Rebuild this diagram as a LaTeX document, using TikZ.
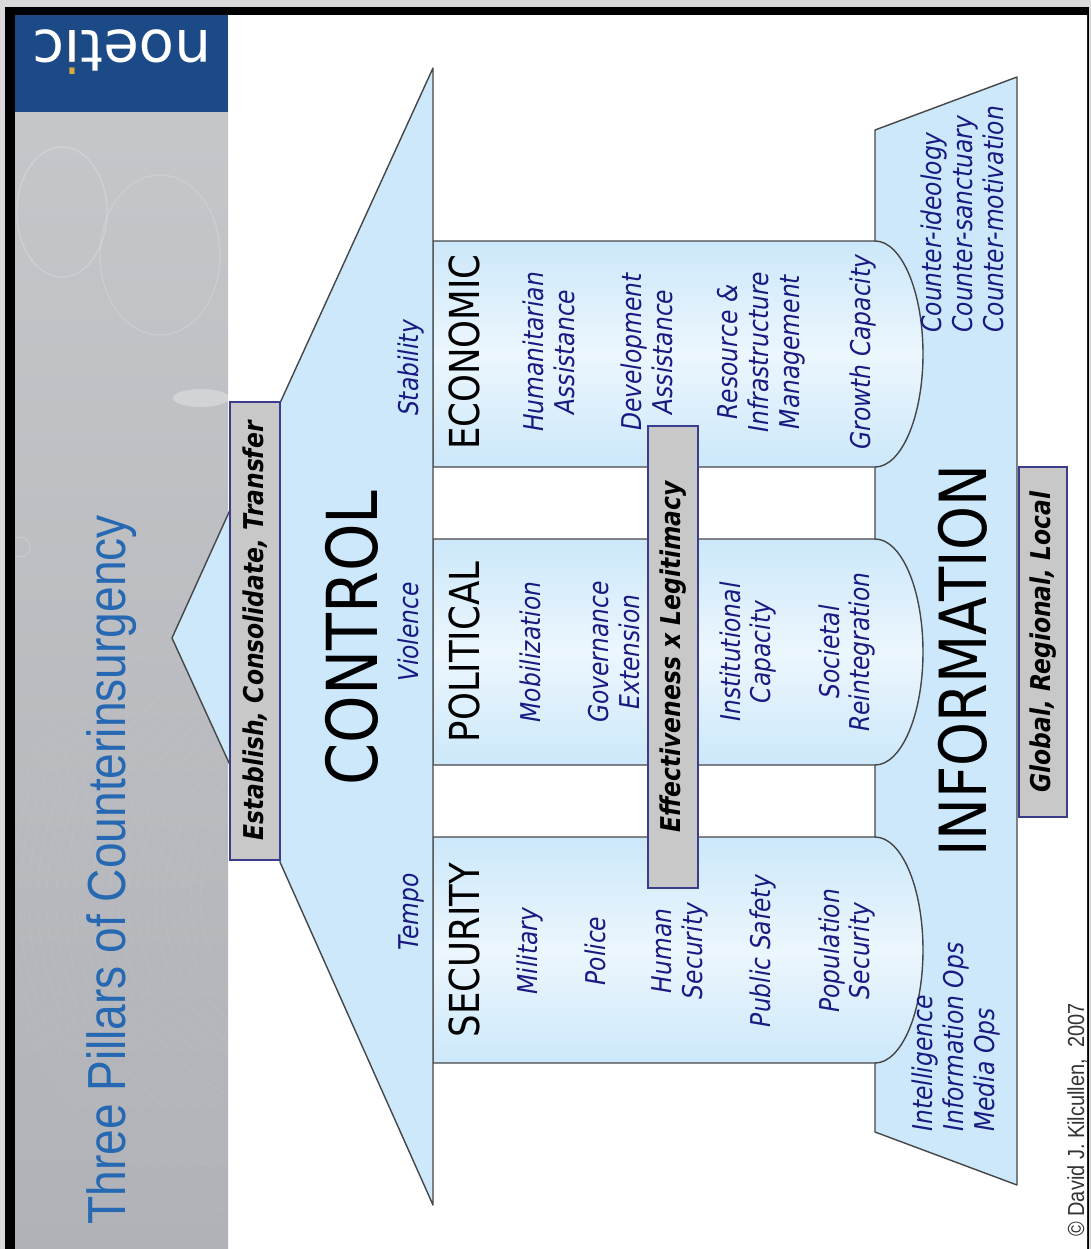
\documentclass[tikz,border=0pt]{standalone}
\usepackage{fontspec}
\usepackage{tikz}
\usetikzlibrary{positioning,calc}
\newfontfamily\slidefont[FakeStretch=0.86]{DejaVu Sans}
\newfontfamily\titlefont[FakeStretch=0.86]{Liberation Sans}
\newfontfamily\logofont{DejaVu Sans}
\definecolor{roofblue}{RGB}{204,232,250}
\definecolor{pillarlight}{RGB}{236,246,253}
\definecolor{textnavy}{RGB}{25,25,130}
\definecolor{titleblue}{RGB}{38,105,178}
\definecolor{logoblue}{RGB}{28,74,134}
\definecolor{logogold}{RGB}{214,170,60}
\definecolor{boxgray}{RGB}{200,200,200}
\definecolor{boxedge}{RGB}{60,60,140}
\definecolor{edgegray}{RGB}{70,70,70}
\definecolor{panelgray}{RGB}{198,200,204}
\definecolor{paneldark}{RGB}{176,178,183}
\pgfdeclareradialshading{slideglow}{\pgfpoint{0bp}{0bp}}{color(0bp)=(white); color(40bp)=(white); color(55bp)=(black!9); color(71bp)=(black!24)}

\begin{document}
\begin{tikzpicture}[
    x=0.02cm, y=-0.02cm,
    outline/.style={draw=edgegray, line width=0.8pt, line join=round},
    labelbox/.style={rectangle, draw=boxedge, fill=boxgray, line width=0.7pt, rotate=90, inner sep=0pt,
        font=\slidefont\bfseries\itshape\fontsize{15.5}{18}\selectfont},
    headtext/.style={rotate=90, inner sep=0pt, anchor=base, font=\slidefont\fontsize{23.5}{28}\selectfont},
    itemtext/.style={rotate=90, inner sep=0pt, align=center, text=textnavy,
        font=\slidefont\itshape\fontsize{15.5}{17.6}\selectfont}
]
    \useasboundingbox (0,0) rectangle (1091,1249);

    % Frame and slide background
    \fill[gray!30] (0,0) rectangle (1091,1249);
    \fill[black] (5,7) rectangle (1089,1249);
    \shade[shading=slideglow] (15,15) rectangle (1087,1249);

    % Side panel with logo
    \shade[top color=panelgray, bottom color=paneldark] (15,15) rectangle (228,1249);
    \begin{scope}
        \clip (15,112) rectangle (228,1249);
        \foreach \r in {130,139,...,330}
            \draw[white, opacity=0.07] (330,900) circle[radius=\r];
        \draw[white, opacity=0.2, line width=0.8pt] (62,212) ellipse[x radius=45, y radius=65];
        \draw[white, opacity=0.15, line width=0.8pt] (160,255) ellipse[x radius=60, y radius=80];
        \draw[white, opacity=0.15, line width=0.8pt] (20,547) circle[radius=10];
        \fill[white, opacity=0.3] (201,398) ellipse[x radius=28, y radius=9];
    \end{scope}
    \fill[logoblue] (15,15) rectangle (228,112);
    \node[rotate=180, anchor=base, inner sep=0pt, text=white, font=\logofont\fontsize{33}{33}\selectfont]
        (logo) at (122,30) {noet\rlap{\color{logogold}i}\i c};
    \node[rotate=90, anchor=base west, inner sep=0pt, text=titleblue, font=\titlefont\fontsize{30.5}{31}\selectfont]
        (title) at (125,1225) {Three Pillars of Counterinsurgency};

    % Foundation
    \filldraw[outline, fill=roofblue] (875,130) -- (1017,77) -- (1017,1185) -- (875,1132) -- cycle;

    % Pillars
    \foreach \y in {241,539,837} {
        \draw[outline, top color=roofblue, bottom color=roofblue, middle color=pillarlight]
            (433,\y) -- (875,\y) arc[start angle=-90, end angle=90, x radius=48, y radius=113]
            -- (433,\y+226) -- cycle;
    }

    % Roof
    \filldraw[outline, fill=roofblue] (433,68) -- (280,403) -- (280,862) -- (433,1205) -- cycle;
    \filldraw[outline, fill=roofblue] (230,510) -- (172,638) -- (230,765);

    % Grey bars
    \node[labelbox, minimum width=9.16cm, minimum height=1cm] (ect) at (255,631) {Establish, Consolidate, Transfer};
    \node[labelbox, minimum width=9.24cm, minimum height=1cm] (exl) at (673,657) {Effectiveness x Legitimacy};
    \node[labelbox, minimum width=7cm, minimum height=0.96cm] (grl) at (1043,642) {Global, Regional, Local};

    % Headings
    \node[headtext, font=\slidefont\fontsize{40}{40}\selectfont] (control) at (377,638) {CONTROL};
    \node[headtext, font=\slidefont\fontsize{37}{37}\selectfont] (information) at (986,661) {INFORMATION};
    \node[headtext] (security) at (479,950) {SECURITY};
    \node[headtext] (political) at (479,652) {POLITICAL};
    \node[headtext] (economic) at (479,352) {ECONOMIC};

    \node[itemtext, anchor=base] (tempo) at (418,912) {Tempo};
    \node[itemtext, anchor=base] (violence) at (418,632) {Violence};
    \node[itemtext, anchor=base] (stability) at (418,368) {Stability};

    % Pillar contents
    \foreach \x/\t [count=\i] in {530/Military, 595/Police, 680/{Human\\Security},
                                  763/Public Safety, 847/{Population\\Security}}
        \node[itemtext] (sec\i) at (\x,951) {\t};
    \foreach \x/\t [count=\i] in {530/Mobilization, 614/{Governance\\Extension},
                                  748/{Institutional\\Capacity}, 847/{Societal\\Reintegration}}
        \node[itemtext] (pol\i) at (\x,652) {\t};
    \foreach \x/\t [count=\i] in {549/{Humanitarian\\Assistance}, 647/{Development\\Assistance},
                                  761/{Resource \&\\Infrastructure\\Management}, 863/Growth Capacity}
        \node[itemtext] (eco\i) at (\x,352) {\t};

    % Foundation side lists
    \node[itemtext, anchor=west, align=left] (ops) at (956,1132) {Intelligence\\Information Ops\\Media Ops};
    \node[itemtext, anchor=west, align=left] (counters) at (962,333) {Counter-ideology\\Counter-sanctuary\\Counter-motivation};

    \node[rotate=90, anchor=base west, inner sep=0pt, text=black!80, font=\titlefont\fontsize{13.2}{14}\selectfont]
        (copyright) at (1084,1237) {\textcopyright\ David J. Kilcullen,\ \ 2007};
\end{tikzpicture}
\end{document}
